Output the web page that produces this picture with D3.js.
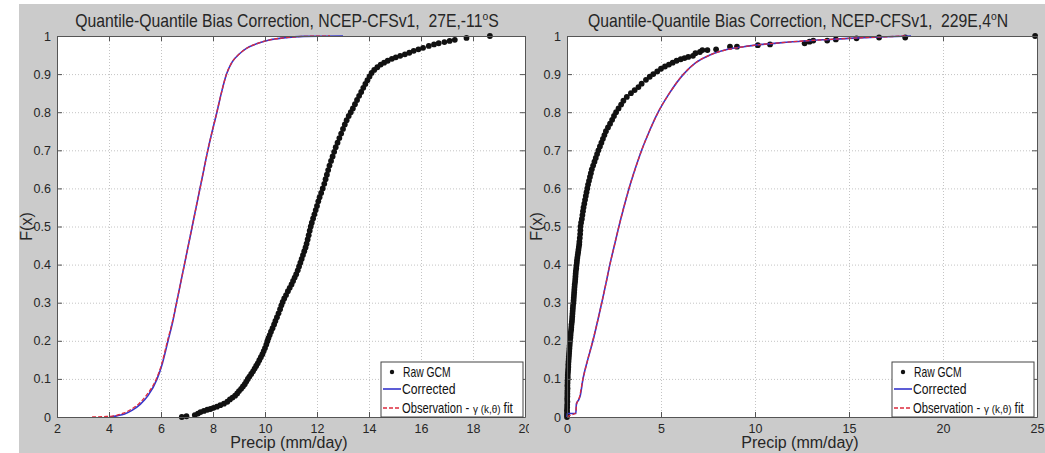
<!DOCTYPE html>
<html>
<head>
<meta charset="utf-8">
<script src="https://cdn.jsdelivr.net/npm/d3@7"></script>
<style>
  body { margin: 0; background: #fff; }
  svg { display: block; font-family: "Liberation Sans", Arial, Helvetica, sans-serif; }
  .tick text { fill: #262626; font-size: 12.5px; }
  .grid line { stroke: #c4c4c4; stroke-dasharray: 1,2; }
  .grid path { display: none; }
</style>
</head>
<body>
<svg id="chart" width="1045" height="453"></svg>
<script>
// tick labels
const yTicks = [0, 0.1, 0.2, 0.3, 0.4, 0.5, 0.6, 0.7, 0.8, 0.9, 1];
const leftXTicks = [2, 4, 6, 8, 10, 12, 14, 16, 18, 20];
const rightXTicks = [0, 5, 10, 15, 20, 25];
const legendLabels = ["Raw GCM", "Corrected", "Observation -"];

// left panel, 27E,-11S : [precip, F(x)]
const leftRaw = [
  [6.80,0.000],[6.98,0.002],[7.30,0.005],[7.42,0.009],[7.52,0.013],[7.65,0.016],[7.78,0.019],[7.90,0.021],
  [8.02,0.024],[8.15,0.027],[8.28,0.031],[8.42,0.035],[8.55,0.040],[8.65,0.046],[8.75,0.051],[8.85,0.056],
  [8.93,0.062],[9.00,0.068],[9.08,0.074],[9.15,0.080],[9.22,0.086],[9.28,0.093],[9.34,0.100],[9.40,0.106],
  [9.47,0.113],[9.54,0.120],[9.60,0.127],[9.66,0.134],[9.72,0.141],[9.78,0.149],[9.84,0.157],[9.90,0.165],
  [9.95,0.173],[10.00,0.181],[10.05,0.190],[10.09,0.199],[10.13,0.207],[10.18,0.215],[10.23,0.224],[10.29,0.233],
  [10.35,0.243],[10.40,0.252],[10.46,0.262],[10.52,0.272],[10.58,0.283],[10.63,0.293],[10.68,0.302],[10.74,0.311],
  [10.81,0.320],[10.88,0.330],[10.95,0.339],[11.02,0.348],[11.08,0.357],[11.14,0.366],[11.20,0.375],[11.26,0.385],
  [11.31,0.395],[11.36,0.405],[11.41,0.415],[11.46,0.425],[11.51,0.435],[11.56,0.445],[11.60,0.455],[11.64,0.466],
  [11.68,0.477],[11.72,0.489],[11.76,0.500],[11.80,0.510],[11.85,0.521],[11.90,0.532],[11.95,0.543],[12.00,0.554],
  [12.05,0.566],[12.10,0.577],[12.16,0.588],[12.22,0.600],[12.28,0.612],[12.33,0.624],[12.38,0.636],[12.43,0.648],
  [12.48,0.660],[12.54,0.672],[12.60,0.684],[12.66,0.696],[12.72,0.708],[12.79,0.720],[12.86,0.732],[12.93,0.744],
  [13.00,0.756],[13.07,0.768],[13.14,0.779],[13.22,0.790],[13.30,0.800],[13.38,0.810],[13.46,0.821],[13.54,0.832],
  [13.62,0.843],[13.70,0.853],[13.78,0.864],[13.86,0.874],[13.94,0.884],[14.02,0.894],[14.10,0.903],[14.20,0.911],
  [14.32,0.918],[14.45,0.925],[14.58,0.930],[14.72,0.935],[14.88,0.940],[15.03,0.944],[15.20,0.948],[15.38,0.952],
  [15.55,0.956],[15.72,0.961],[15.90,0.965],[16.08,0.969],[16.30,0.974],[16.50,0.978],[16.68,0.981],[16.90,0.984],
  [17.10,0.987],[17.30,0.990],[17.75,0.995],[18.65,1.000]
];
const leftCorrected = [
  [4.05,0.000],[4.30,0.003],[4.60,0.008],[4.90,0.018],[5.20,0.033],[5.50,0.056],[5.85,0.100],[6.05,0.140],
  [6.27,0.200],[6.45,0.250],[6.60,0.300],[6.75,0.350],[6.90,0.400],[7.05,0.450],[7.20,0.500],[7.35,0.550],
  [7.50,0.600],[7.65,0.650],[7.80,0.700],[7.97,0.750],[8.15,0.800],[8.32,0.850],[8.52,0.900],[8.74,0.932],
  [9.00,0.952],[9.30,0.968],[9.70,0.980],[10.20,0.990],[10.70,0.995],[11.50,0.999],[13.00,1.000]
];
const leftObs = [
  [3.35,0.000],[3.80,0.001],[4.20,0.003],[4.55,0.010],[4.85,0.020],[5.15,0.035],[5.45,0.058],[5.82,0.100],
  [6.03,0.140],[6.25,0.200],[6.44,0.250],[6.60,0.300],[6.75,0.350],[6.90,0.400],[7.05,0.450],[7.20,0.500],
  [7.35,0.550],[7.50,0.600],[7.65,0.650],[7.80,0.700],[7.97,0.750],[8.15,0.800],[8.32,0.850],[8.52,0.900],
  [8.72,0.930],[9.00,0.952],[9.30,0.968],[9.70,0.980],[10.20,0.990],[10.70,0.995],[11.50,0.999],[12.50,1.000]
];

// right panel, 229E,4N : [precip, F(x)]
const rightRaw = [
  [0.00,0.000],[0.00,0.006],[0.01,0.012],[0.00,0.018],[0.01,0.025],[0.01,0.032],[0.02,0.040],[0.01,0.047],
  [0.02,0.054],[0.02,0.061],[0.02,0.068],[0.03,0.075],[0.02,0.082],[0.03,0.089],[0.03,0.096],[0.04,0.103],
  [0.04,0.110],[0.05,0.117],[0.06,0.124],[0.07,0.131],[0.07,0.138],[0.08,0.145],[0.09,0.152],[0.10,0.159],
  [0.11,0.166],[0.12,0.173],[0.13,0.180],[0.14,0.187],[0.15,0.194],[0.16,0.201],[0.18,0.208],[0.19,0.215],
  [0.20,0.222],[0.22,0.229],[0.23,0.236],[0.24,0.243],[0.26,0.250],[0.27,0.257],[0.28,0.264],[0.29,0.271],
  [0.30,0.278],[0.31,0.285],[0.32,0.292],[0.34,0.299],[0.35,0.306],[0.36,0.313],[0.37,0.320],[0.38,0.327],
  [0.39,0.334],[0.40,0.341],[0.41,0.348],[0.43,0.355],[0.44,0.362],[0.45,0.369],[0.46,0.376],[0.47,0.383],
  [0.49,0.390],[0.50,0.397],[0.52,0.404],[0.53,0.411],[0.55,0.418],[0.57,0.425],[0.59,0.432],[0.61,0.439],
  [0.63,0.446],[0.65,0.453],[0.66,0.460],[0.68,0.470],[0.70,0.480],[0.71,0.490],[0.72,0.500],[0.75,0.510],
  [0.79,0.520],[0.82,0.530],[0.85,0.540],[0.88,0.550],[0.92,0.560],[0.96,0.570],[1.00,0.580],[1.04,0.590],
  [1.08,0.600],[1.12,0.610],[1.17,0.620],[1.22,0.630],[1.27,0.640],[1.32,0.650],[1.39,0.660],[1.46,0.670],
  [1.53,0.680],[1.60,0.690],[1.67,0.700],[1.75,0.710],[1.83,0.720],[1.91,0.730],[1.99,0.740],[2.07,0.750],
  [2.18,0.760],[2.29,0.770],[2.40,0.780],[2.50,0.790],[2.61,0.800],[2.74,0.810],[2.88,0.820],[3.00,0.830],
  [3.18,0.840],[3.40,0.850],[3.60,0.858],[3.80,0.866],[3.97,0.875],[4.20,0.885],[4.40,0.893],[4.59,0.900],
  [4.80,0.907],[5.00,0.914],[5.21,0.920],[5.42,0.925],[5.62,0.930],[5.83,0.935],[6.05,0.939],[6.25,0.942],
  [6.45,0.945],[6.70,0.948],[6.83,0.955],[7.07,0.958],[7.20,0.963],[7.47,0.963],[7.93,0.965],[8.67,0.972],
  [9.04,0.972],[10.15,0.976],[10.80,0.978],[12.64,0.981],[12.90,0.985],[13.10,0.988],[13.84,0.988],[14.30,0.991],
  [15.40,0.994],[16.60,0.996],[17.99,0.996],[24.90,1.000]
];
const rightCorrected = [
  [0.00,0.000],[0.01,0.009],[0.47,0.009],[0.50,0.035],[0.62,0.045],[0.70,0.055],[0.85,0.100],[1.10,0.150],
  [1.38,0.200],[1.62,0.250],[1.85,0.300],[2.07,0.350],[2.28,0.400],[2.52,0.450],[2.76,0.500],[3.02,0.550],
  [3.30,0.600],[3.62,0.650],[3.97,0.700],[4.38,0.750],[4.85,0.800],[5.45,0.850],[6.20,0.900],[6.85,0.930],
  [7.60,0.950],[8.40,0.963],[9.40,0.972],[10.40,0.978],[11.30,0.982],[12.60,0.987],[14.00,0.991],[15.50,0.995],
  [17.00,0.998],[18.30,1.000]
];
const rightObs = [
  [0.00,0.000],[0.20,0.005],[0.45,0.010],[0.52,0.035],[0.65,0.050],[0.85,0.100],[1.10,0.150],[1.37,0.200],
  [1.62,0.250],[1.85,0.300],[2.07,0.350],[2.28,0.400],[2.52,0.450],[2.76,0.500],[3.02,0.550],[3.30,0.600],
  [3.62,0.650],[3.97,0.700],[4.38,0.750],[4.85,0.800],[5.45,0.850],[6.20,0.900],[6.85,0.930],[7.60,0.950],
  [8.40,0.963],[9.40,0.972],[10.40,0.978],[11.30,0.982],[12.60,0.987],[14.00,0.991],[15.50,0.995],[17.00,0.998],
  [18.00,1.000]
];

const svg = d3.select("#chart");
const blue = "#3535cc", red = "#dd2a3c";

function drawPanel(p) {
  // figure background
  svg.append("rect")
    .attr("x", p.bgX).attr("y", 4)
    .attr("width", p.bgW).attr("height", 449)
    .attr("fill", "#cbcbcb");

  const x = d3.scaleLinear().domain(p.xDomain).range([p.left, p.right]);
  const y = d3.scaleLinear().domain([0, 1]).range([p.bottom, p.top]);
  const w = p.right - p.left, h = p.bottom - p.top;

  svg.append("rect")
    .attr("x", p.left).attr("y", p.top)
    .attr("width", w).attr("height", h)
    .attr("fill", "#fff");

  // dotted grid
  svg.append("g").attr("class", "grid")
    .attr("transform", `translate(0,${p.bottom})`)
    .call(d3.axisBottom(x).tickValues(p.xTicks).tickSize(-h).tickFormat(""));
  svg.append("g").attr("class", "grid")
    .attr("transform", `translate(${p.left},0)`)
    .call(d3.axisLeft(y).tickValues(yTicks).tickSize(-w).tickFormat(""));

  // data
  svg.append("g").selectAll("circle")
    .data(p.raw).enter().append("circle")
    .attr("cx", d => x(d[0]))
    .attr("cy", d => y(d[1]))
    .attr("r", 2.9)
    .attr("fill", "#111");

  const line = d3.line().x(d => x(d[0])).y(d => y(d[1])).curve(d3.curveMonotoneX);
  svg.append("path").datum(p.corrected)
    .attr("d", line).attr("fill", "none")
    .attr("stroke", blue).attr("stroke-width", 1.6);
  svg.append("path").datum(p.obs)
    .attr("d", line).attr("fill", "none")
    .attr("stroke", red).attr("stroke-width", 1.3)
    .attr("stroke-dasharray", "4,2");

  // axes with inward ticks (matlab style)
  const styleAxis = g => {
    g.select(".domain").attr("stroke", "#555");
    g.selectAll(".tick line").attr("stroke", "#555");
  };
  svg.append("g")
    .attr("transform", `translate(0,${p.bottom})`)
    .call(d3.axisBottom(x).tickValues(p.xTicks).tickSizeInner(-5).tickSizeOuter(0)
      .tickPadding(7).tickFormat(d => d))
    .call(styleAxis);
  svg.append("g")
    .attr("transform", `translate(0,${p.top})`)
    .call(d3.axisTop(x).tickValues(p.xTicks).tickSizeInner(-5).tickSizeOuter(0).tickFormat(""))
    .call(styleAxis);
  svg.append("g")
    .attr("transform", `translate(${p.left},0)`)
    .call(d3.axisLeft(y).tickValues(yTicks).tickSizeInner(-5).tickSizeOuter(0)
      .tickPadding(6).tickFormat(d => d))
    .call(styleAxis);
  svg.append("g")
    .attr("transform", `translate(${p.right},0)`)
    .call(d3.axisRight(y).tickValues(yTicks).tickSizeInner(-5).tickSizeOuter(0).tickFormat(""))
    .call(styleAxis);

  // title (slightly condensed, like the original figure)
  const cx = (p.left + p.right) / 2;
  const t = svg.append("text")
    .attr("transform", `translate(${cx - 4},27) scale(0.9,1)`)
    .attr("text-anchor", "middle")
    .attr("font-size", 17.5)
    .attr("fill", "#262626")
    .style("white-space", "pre");
  t.append("tspan").text(p.title);
  t.append("tspan").attr("font-size", 11.5).attr("dy", -7).text("o");
  t.append("tspan").attr("dy", 7).text(p.titleEnd);

  // axis labels
  svg.append("text")
    .attr("x", cx - 2).attr("y", 448)
    .attr("text-anchor", "middle")
    .attr("font-size", 16).attr("fill", "#262626")
    .text("Precip (mm/day)");
  svg.append("text")
    .attr("transform", `translate(${p.left - 25},${(p.top + p.bottom) / 2}) rotate(-90)`)
    .attr("text-anchor", "middle")
    .attr("font-size", 16).attr("fill", "#262626")
    .text("F(x)");

  // legend
  const lg = svg.append("g").attr("transform", `translate(${p.legendX},362)`);
  lg.append("rect")
    .attr("width", 142).attr("height", 55)
    .attr("fill", "#fff").attr("stroke", "#444").attr("stroke-width", 1);
  lg.append("circle").attr("cx", 11).attr("cy", 10).attr("r", 2.2).attr("fill", "#111");
  lg.append("line").attr("x1", 2).attr("x2", 20).attr("y1", 27).attr("y2", 27)
    .attr("stroke", blue).attr("stroke-width", 1.6);
  lg.append("line").attr("x1", 2).attr("x2", 20).attr("y1", 46).attr("y2", 46)
    .attr("stroke", red).attr("stroke-width", 1.3).attr("stroke-dasharray", "4,2");

  // legend texts: condensed by a horizontal scale, chained left to right
  const addText = (s, tx, ty, size, sx) => {
    const el = lg.append("text")
      .attr("transform", `translate(${tx},${ty}) scale(${sx},1)`)
      .attr("font-size", size).attr("fill", "#111")
      .text(s);
    return tx + el.node().getComputedTextLength() * sx;
  };
  addText(legendLabels[0], 22, 15, 14, 0.74);
  addText(legendLabels[1], 21, 32, 14, 0.87);
  let nx = addText(legendLabels[2], 21, 51, 14, 0.8);
  nx = addText("\u03b3 (k,\u03b8)", nx + 4, 51, 11, 0.9);
  addText("fit", nx + 3, 51, 14, 0.85);
}

drawPanel({
  bgX: 19, bgW: 510,
  left: 57, right: 525, top: 36, bottom: 417,
  xDomain: [2, 20], xTicks: leftXTicks,
  raw: leftRaw, corrected: leftCorrected, obs: leftObs,
  title: "Quantile-Quantile Bias Correction, NCEP-CFSv1,  27E,-11", titleEnd: "S",
  legendX: 381
});
drawPanel({
  bgX: 529, bgW: 516,
  left: 567, right: 1037, top: 36, bottom: 417,
  xDomain: [0, 25], xTicks: rightXTicks,
  raw: rightRaw, corrected: rightCorrected, obs: rightObs,
  title: "Quantile-Quantile Bias Correction, NCEP-CFSv1,  229E,4", titleEnd: "N",
  legendX: 892
});
</script>
</body>
</html>
